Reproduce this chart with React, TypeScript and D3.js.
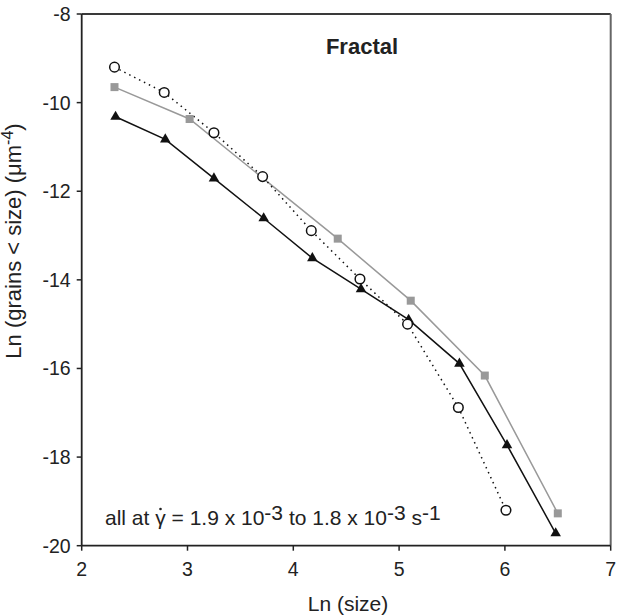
import React from 'react';
import * as d3 from 'd3';

const circleX = [2.31, 2.78, 3.25, 3.71, 4.17, 4.63, 5.08, 5.56, 6.01];
const circleY = [-9.2, -9.77, -10.68, -11.67, -12.89, -13.98, -15.0, -16.88, -19.2];
const squareX = [2.31, 3.02, 4.42, 5.11, 5.81, 6.5];
const squareY = [-9.65, -10.37, -13.07, -14.47, -16.16, -19.27];
const triX = [2.32, 2.79, 3.25, 3.72, 4.18, 4.64, 5.09, 5.57, 6.02, 6.48];
const triY = [-10.32, -10.83, -11.71, -12.61, -13.51, -14.21, -14.9, -15.89, -17.73, -19.72];
const xTicks = [2, 3, 4, 5, 6, 7];
const yTicks = [-8, -10, -12, -14, -16, -18, -20];

const font = 'Liberation Sans, Arial, sans-serif';

export default function App() {
  const width = 622;
  const height = 616;
  const x = d3.scaleLinear().domain([2, 7]).range([81.7, 610.7]);
  const y = d3.scaleLinear().domain([-20, -8]).range([545.7, 14]);

  const line = d3.line<[number, number]>()
    .x(d => x(d[0]))
    .y(d => y(d[1]));

  const circles = circleX.map((v, i) => [v, circleY[i]] as [number, number]);
  const squares = squareX.map((v, i) => [v, squareY[i]] as [number, number]);
  const tris = triX.map((v, i) => [v, triY[i]] as [number, number]);
  const tri = d3.symbol().type(d3.symbolTriangle).size(48)();

  return (
    <svg width={width} height={height} style={{ position: 'absolute', left: 0, top: 0 }}
      fontFamily={font}>
      <rect width={width} height={height} fill="#fff" />

      {/* frame */}
      <line x1={x(2)} x2={x(7)} y1={y(-8)} y2={y(-8)} stroke="#3a3a3a" strokeWidth={1.8} />
      <line x1={x(7)} x2={x(7)} y1={y(-8)} y2={y(-20)} stroke="#666" strokeWidth={2} />
      <line x1={x(2)} x2={x(2)} y1={y(-8)} y2={y(-20)} stroke="#222" strokeWidth={1.8} />
      <line x1={x(2)} x2={x(7)} y1={y(-20)} y2={y(-20)} stroke="#222" strokeWidth={1.8} />

      {yTicks.map(t => (
        <g key={t}>
          <line x1={x(2) - 5} x2={x(2)} y1={y(t)} y2={y(t)} stroke="#222" strokeWidth={1.5} />
          <text x={x(2) - 11} y={y(t)} dy="0.36em" textAnchor="end" fontSize={19.5} fill="#222">{t}</text>
        </g>
      ))}
      {xTicks.map(t => (
        <g key={t}>
          <line x1={x(t)} x2={x(t)} y1={y(-20)} y2={y(-20) + 5} stroke="#222" strokeWidth={1.5} />
          <text x={x(t)} y={y(-20) + 30} textAnchor="middle" fontSize={19.5} fill="#222">{t}</text>
        </g>
      ))}

      <text x={348} y={611} textAnchor="middle" fontSize={21} fill="#222">Ln (size)</text>
      <text transform="translate(21,241) rotate(-90)" textAnchor="middle" fontSize={22} fill="#222">
        Ln (grains &lt; size) (μm<tspan dy={-8} fontSize={16}>-4</tspan><tspan dy={8}>)</tspan>
      </text>

      <text x={362} y={54} textAnchor="middle" fontSize={22} fontWeight="bold" fill="#222">Fractal</text>

      <text x={105} y={525} fontSize={21} fill="#222">
        all at γ = 1.9 x 10<tspan dy={-5}>-3</tspan><tspan dy={5}> to 1.8 x 10</tspan><tspan dy={-5}>-3</tspan><tspan dy={5}> s</tspan><tspan dy={-5}>-1</tspan>
      </text>
      {/* dot over gamma */}
      <circle cx={160.5} cy={509} r={1.3} fill="#222" />

      {/* series */}
      <path d={line(squares) || ''} fill="none" stroke="#999" strokeWidth={1.5} />
      <path d={line(tris) || ''} fill="none" stroke="#111" strokeWidth={1.5} />
      <path d={line(circles) || ''} fill="none" stroke="#111" strokeWidth={1.5} strokeDasharray="1.5 4" />

      {squares.map((d, i) => (
        <rect key={i} x={x(d[0]) - 4} y={y(d[1]) - 4} width={8} height={8} fill="#999" />
      ))}
      {tris.map((d, i) => (
        <path key={i} d={tri || ''} transform={`translate(${x(d[0])},${y(d[1])})`} fill="#111" />
      ))}
      {circles.map((d, i) => (
        <circle key={i} cx={x(d[0])} cy={y(d[1])} r={4.8} fill="#fff" stroke="#111" strokeWidth={1.5} />
      ))}
    </svg>
  );
}
